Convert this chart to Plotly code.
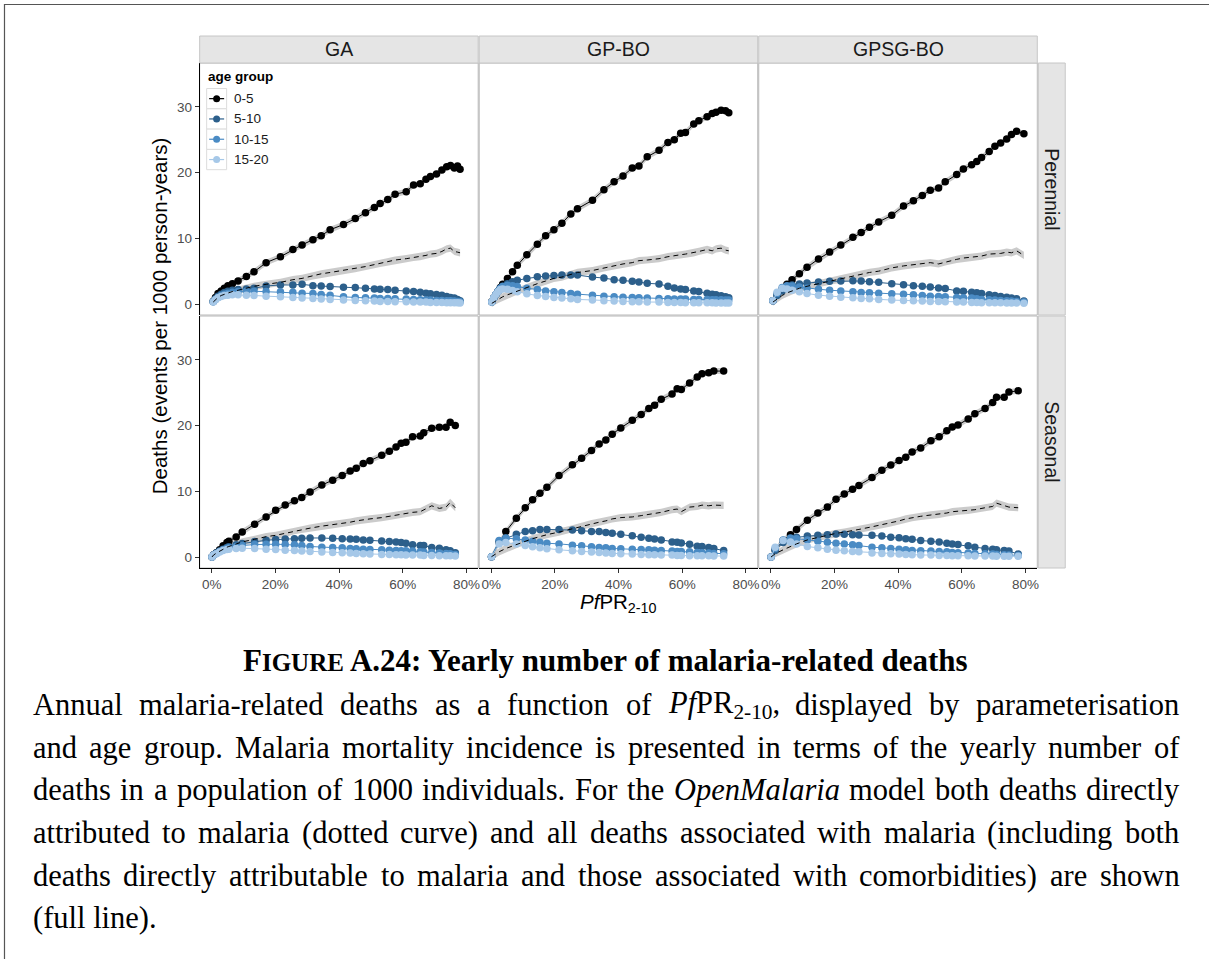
import re
import plotly.graph_objects as go

# ------------------------------------------------------------------
# Data: yearly malaria deaths per 1000 person-years against PfPR(2-10)
# ------------------------------------------------------------------
AGE_GROUPS = ["0-5", "5-10", "10-15", "15-20"]
PARAMETERISATIONS = ["GA", "GP-BO", "GPSG-BO"]
SETTINGS = ["Perennial", "Seasonal"]
X_TICKS = [0, 0.2, 0.4, 0.6, 0.8]
X_TICK_LABELS = ["0%", "20%", "40%", "60%", "80%"]
Y_TICKS = [0, 10, 20, 30]

# GA, perennial
ga_per_x = [0.005, 0.012, 0.020, 0.030, 0.040, 0.051, 0.065, 0.083, 0.109, 0.133,
            0.171, 0.216, 0.255, 0.284, 0.318, 0.344, 0.372, 0.414, 0.451, 0.483,
            0.511, 0.529, 0.553, 0.576, 0.611, 0.634, 0.655, 0.673, 0.687, 0.706,
            0.723, 0.738, 0.750, 0.762, 0.772, 0.780]
ga_per_0_5 = [0.4, 1.0, 1.6, 2.0, 2.4, 2.8, 3.1, 3.5, 4.2, 4.9,
              6.3, 7.2, 8.3, 9.0, 9.8, 10.4, 11.3, 12.1, 13.0, 13.9,
              14.7, 15.3, 15.9, 16.7, 17.1, 18.1, 18.3, 19.0, 19.4, 19.8,
              20.4, 20.9, 21.1, 20.7, 21.0, 20.5]
ga_per_5_10 = [0.4, 0.8, 1.2, 1.5, 1.75, 1.95, 2.1, 2.2, 2.3, 2.4,
               2.75, 2.9, 2.9, 3.0, 2.8, 2.75, 2.65, 2.55, 2.5, 2.4,
               2.3, 2.25, 2.2, 2.1, 2.0, 1.9, 1.8, 1.65, 1.55, 1.45,
               1.35, 1.15, 1.0, 0.9, 0.7, 0.5]
ga_per_10_15 = [0.35, 0.7, 1.0, 1.3, 1.5, 1.65, 1.8, 1.9, 1.95, 1.95,
                1.9, 1.85, 1.8, 1.65, 1.6, 1.45, 1.35, 1.1, 1.0, 0.95,
                0.9, 0.85, 0.85, 0.8, 0.75, 0.7, 0.65, 0.6, 0.6, 0.55,
                0.55, 0.5, 0.5, 0.45, 0.4, 0.35]
ga_per_15_20 = [0.3, 0.65, 0.95, 1.15, 1.3, 1.35, 1.4, 1.4, 1.35, 1.3,
                1.2, 1.1, 1.0, 0.9, 0.85, 0.75, 0.7, 0.6, 0.55, 0.5,
                0.45, 0.4, 0.4, 0.35, 0.35, 0.3, 0.3, 0.3, 0.25, 0.25,
                0.25, 0.2, 0.2, 0.2, 0.2, 0.15]
ga_per_direct = [0.3, 0.7, 1.0, 1.3, 1.5, 1.7, 1.9, 2.1, 2.4, 2.7,
                 3.0, 3.3, 3.7, 3.9, 4.3, 4.6, 4.8, 5.1, 5.4, 5.7,
                 6.0, 6.2, 6.4, 6.7, 6.9, 7.1, 7.2, 7.4, 7.6, 7.7,
                 8.0, 8.4, 8.5, 8.0, 7.9, 7.8]

# GA, seasonal
ga_sea_x = [0.001, 0.006, 0.015, 0.025, 0.036, 0.048, 0.054, 0.077, 0.096, 0.135,
            0.171, 0.201, 0.231, 0.260, 0.283, 0.309, 0.346, 0.380, 0.410, 0.435,
            0.454, 0.476, 0.497, 0.534, 0.558, 0.579, 0.595, 0.610, 0.631, 0.655,
            0.666, 0.691, 0.715, 0.736, 0.749, 0.765]
ga_sea_0_5 = [0.0, 0.35, 0.65, 1.1, 1.7, 2.2, 2.4, 3.05, 3.8, 5.0,
              6.1, 7.1, 7.9, 8.55, 9.05, 9.9, 10.95, 11.7, 12.4, 13.1,
              13.5, 14.25, 14.65, 15.5, 16.1, 16.75, 17.3, 17.45, 18.3, 18.4,
              18.9, 19.6, 19.75, 19.75, 20.5, 20.0]
ga_sea_5_10 = [0.0, 0.3, 0.6, 0.9, 1.2, 1.45, 1.55, 1.85, 2.05, 2.35,
               2.55, 2.65, 2.75, 2.8, 2.85, 2.9, 2.9, 2.85, 2.8, 2.75,
               2.7, 2.6, 2.55, 2.45, 2.35, 2.3, 2.2, 2.1, 1.85, 1.75,
               1.75, 1.45, 1.35, 1.1, 0.95, 0.65]
ga_sea_10_15 = [0.0, 0.3, 0.55, 0.85, 1.1, 1.3, 1.4, 1.6, 1.75, 1.9,
                1.95, 1.95, 1.9, 1.85, 1.75, 1.6, 1.5, 1.45, 1.4, 1.3,
                1.25, 1.2, 1.15, 1.1, 1.05, 1.0, 0.95, 0.95, 0.9, 0.8,
                0.75, 0.7, 0.6, 0.55, 0.5, 0.4]
ga_sea_15_20 = [0.0, 0.3, 0.5, 0.75, 1.0, 1.15, 1.2, 1.3, 1.35, 1.3,
                1.2, 1.15, 1.05, 1.0, 0.9, 0.85, 0.75, 0.7, 0.65, 0.6,
                0.55, 0.5, 0.45, 0.4, 0.4, 0.35, 0.35, 0.3, 0.3, 0.3,
                0.25, 0.25, 0.2, 0.2, 0.2, 0.15]
ga_sea_direct = [0.0, 0.3, 0.6, 0.9, 1.2, 1.5, 1.6, 2.0, 2.3, 2.7,
                 3.1, 3.3, 3.6, 4.0, 4.2, 4.4, 4.7, 4.9, 5.1, 5.3,
                 5.5, 5.7, 5.8, 6.0, 6.2, 6.4, 6.5, 6.6, 6.8, 6.9,
                 7.2, 7.8, 7.4, 7.6, 8.3, 7.5]

# GP-BO, perennial
gpbo_per_x = [0.002, 0.008, 0.015, 0.022, 0.029, 0.036, 0.051, 0.067, 0.082, 0.112,
              0.145, 0.171, 0.197, 0.222, 0.250, 0.271, 0.318, 0.354, 0.386, 0.414,
              0.443, 0.464, 0.490, 0.527, 0.555, 0.575, 0.595, 0.610, 0.636, 0.652,
              0.678, 0.694, 0.706, 0.722, 0.736, 0.746]
gpbo_per_0_5 = [0.35, 0.9, 1.5, 2.0, 2.5, 3.0, 3.9, 4.9, 5.9, 7.5,
                9.1, 10.4, 11.3, 12.3, 13.7, 14.5, 15.8, 17.4, 18.6, 19.5,
                20.7, 21.0, 22.4, 23.4, 24.6, 25.0, 26.0, 26.1, 27.4, 27.9,
                28.5, 29.0, 29.2, 29.5, 29.4, 29.1]
gpbo_per_5_10 = [0.3, 0.9, 1.5, 2.0, 2.4, 2.7, 3.1, 3.4, 3.6, 3.9,
                 4.15, 4.25, 4.35, 4.4, 4.4, 4.4, 4.1, 3.95, 3.7, 3.6,
                 3.45, 3.35, 3.15, 3.05, 2.7, 2.45, 2.3, 2.2, 2.0, 1.9,
                 1.65, 1.5, 1.4, 1.25, 1.1, 0.95]
gpbo_per_10_15 = [0.3, 0.9, 1.5, 2.0, 2.4, 2.65, 2.85, 2.8, 2.65, 2.4,
                  2.2, 2.0, 1.85, 1.75, 1.6, 1.5, 1.35, 1.2, 1.1, 1.05,
                  1.0, 0.95, 0.9, 0.85, 0.8, 0.75, 0.75, 0.75, 0.7, 0.7,
                  0.7, 0.65, 0.65, 0.65, 0.6, 0.6]
gpbo_per_15_20 = [0.3, 0.9, 1.5, 1.9, 2.2, 2.3, 2.25, 2.05, 1.85, 1.55,
                  1.3, 1.15, 1.0, 0.9, 0.8, 0.7, 0.6, 0.5, 0.45, 0.4,
                  0.35, 0.35, 0.3, 0.3, 0.25, 0.25, 0.25, 0.2, 0.2, 0.2,
                  0.2, 0.2, 0.15, 0.15, 0.15, 0.15]
gpbo_per_direct = [0.1, 0.3, 0.5, 0.7, 0.9, 1.1, 1.4, 1.7, 2.0, 2.5,
                   3.1, 3.5, 3.9, 4.1, 4.5, 4.8, 5.1, 5.5, 5.8, 6.1,
                   6.3, 6.6, 6.7, 6.9, 7.2, 7.3, 7.5, 7.6, 7.8, 8.0,
                   8.3, 8.1, 8.4, 8.5, 8.2, 8.1]

# GP-BO, seasonal
gpbo_sea_x = [0.001, 0.025, 0.046, 0.079, 0.107, 0.130, 0.153, 0.175, 0.213, 0.255,
              0.284, 0.315, 0.339, 0.360, 0.380, 0.407, 0.443, 0.471, 0.495, 0.513,
              0.534, 0.568, 0.584, 0.597, 0.623, 0.647, 0.662, 0.683, 0.699, 0.730]
gpbo_sea_0_5 = [0.05, 2.2, 3.9, 5.9, 7.5, 8.7, 9.7, 10.6, 12.4, 14.05,
                15.05, 16.2, 17.2, 17.8, 18.7, 19.65, 20.8, 21.7, 22.6, 23.1,
                24.0, 24.8, 25.6, 25.5, 26.5, 27.4, 27.9, 28.05, 28.3, 28.3]
gpbo_sea_5_10 = [0.05, 2.4, 2.85, 3.45, 3.9, 4.0, 4.2, 4.2, 4.2, 4.1,
                 4.0, 3.9, 3.9, 3.75, 3.6, 3.45, 3.25, 3.0, 2.85, 2.75,
                 2.6, 2.3, 2.25, 2.15, 1.95, 1.65, 1.6, 1.45, 1.3, 1.0]
gpbo_sea_10_15 = [0.05, 2.5, 2.9, 2.8, 2.6, 2.4, 2.25, 2.1, 2.0, 1.8,
                  1.7, 1.55, 1.45, 1.4, 1.3, 1.25, 1.2, 1.15, 1.1, 1.05,
                  1.0, 0.9, 0.85, 0.85, 0.8, 0.7, 0.65, 0.6, 0.55, 0.5]
gpbo_sea_15_20 = [0.05, 2.0, 2.2, 2.0, 1.75, 1.55, 1.4, 1.25, 1.1, 0.95,
                  0.85, 0.75, 0.7, 0.6, 0.55, 0.5, 0.45, 0.4, 0.35, 0.35,
                  0.3, 0.3, 0.25, 0.25, 0.2, 0.2, 0.2, 0.2, 0.15, 0.15]
gpbo_sea_direct = [0.05, 0.8, 1.3, 1.9, 2.4, 2.8, 3.1, 3.4, 3.8, 4.3,
                   4.7, 5.1, 5.3, 5.5, 5.8, 6.0, 6.1, 6.3, 6.5, 6.6,
                   6.8, 7.2, 7.3, 6.9, 7.6, 7.7, 7.9, 7.8, 7.9, 7.85]

# GPSG-BO, perennial
gpsg_per_x = [0.007, 0.020, 0.036, 0.051, 0.067, 0.090, 0.114, 0.150, 0.185, 0.220,
              0.258, 0.284, 0.310, 0.339, 0.380, 0.417, 0.448, 0.476, 0.501, 0.527,
              0.548, 0.584, 0.605, 0.631, 0.647, 0.662, 0.686, 0.704, 0.722, 0.741,
              0.756, 0.772, 0.795]
gpsg_per_0_5 = [0.5, 1.4, 2.3, 3.0, 3.7, 4.6, 5.6, 6.85, 7.9, 9.0,
                10.15, 10.9, 11.7, 12.5, 13.5, 14.9, 15.7, 16.5, 17.3, 17.65,
                18.6, 19.7, 20.55, 21.2, 21.7, 22.3, 23.2, 24.0, 24.5, 25.1,
                25.8, 26.3, 25.9]
gpsg_per_5_10 = [0.5, 1.3, 2.0, 2.5, 2.9, 3.05, 3.2, 3.35, 3.45, 3.5,
                 3.55, 3.5, 3.4, 3.3, 3.1, 2.95, 2.8, 2.7, 2.6, 2.45,
                 2.35, 2.0, 1.95, 1.8, 1.7, 1.6, 1.4, 1.3, 1.15, 1.05,
                 0.9, 0.8, 0.45]
gpsg_per_10_15 = [0.5, 1.6, 2.5, 2.8, 2.75, 2.6, 2.4, 2.25, 2.1, 2.0,
                  1.85, 1.75, 1.7, 1.65, 1.55, 1.5, 1.4, 1.3, 1.2, 1.15,
                  1.1, 1.0, 0.95, 0.9, 0.8, 0.7, 0.65, 0.6, 0.55, 0.5,
                  0.45, 0.4, 0.3]
gpsg_per_15_20 = [0.5, 1.8, 2.4, 2.3, 2.1, 1.85, 1.6, 1.35, 1.2, 1.05,
                  0.95, 0.85, 0.8, 0.7, 0.6, 0.55, 0.5, 0.45, 0.4, 0.4,
                  0.35, 0.3, 0.3, 0.25, 0.25, 0.2, 0.2, 0.2, 0.2, 0.15,
                  0.15, 0.15, 0.1]
gpsg_per_direct = [0.3, 0.8, 1.3, 1.7, 2.0, 2.4, 2.7, 3.1, 3.5, 3.8,
                   4.2, 4.5, 4.8, 5.0, 5.5, 5.8, 6.0, 6.2, 6.3, 6.1,
                   6.4, 6.8, 7.0, 7.1, 7.2, 7.3, 7.6, 7.6, 7.7, 7.9,
                   7.8, 8.1, 7.4]

# GPSG-BO, seasonal
gpsg_sea_x = [0.001, 0.014, 0.039, 0.062, 0.081, 0.115, 0.148, 0.178, 0.205, 0.231,
              0.257, 0.277, 0.318, 0.349, 0.377, 0.403, 0.424, 0.444, 0.471, 0.503,
              0.529, 0.553, 0.570, 0.588, 0.620, 0.641, 0.673, 0.697, 0.709, 0.733,
              0.748, 0.777]
gpsg_sea_0_5 = [0.0, 1.1, 2.5, 3.4, 4.2, 5.6, 6.7, 7.6, 8.8, 9.6,
                10.3, 10.9, 12.1, 13.2, 14.0, 14.7, 15.2, 16.0, 16.6, 17.7,
                18.3, 19.2, 19.8, 20.1, 21.0, 21.8, 22.6, 23.5, 24.3, 24.3,
                25.1, 25.3]
gpsg_sea_5_10 = [0.0, 1.0, 2.2, 2.8, 3.0, 3.2, 3.3, 3.4, 3.5, 3.45,
                 3.4, 3.35, 3.3, 3.2, 3.0, 2.95, 2.8, 2.7, 2.5, 2.4,
                 2.3, 2.1, 2.0, 1.9, 1.7, 1.5, 1.3, 1.2, 1.1, 1.0,
                 0.9, 0.45]
gpsg_sea_10_15 = [0.0, 1.3, 2.6, 2.9, 2.8, 2.6, 2.4, 2.25, 2.1, 2.0,
                  1.85, 1.75, 1.5, 1.4, 1.3, 1.2, 1.1, 1.0, 0.95, 0.9,
                  0.85, 0.8, 0.7, 0.65, 0.6, 0.55, 0.5, 0.45, 0.4, 0.35,
                  0.3, 0.25]
gpsg_sea_15_20 = [0.0, 1.5, 2.5, 2.3, 2.0, 1.6, 1.4, 1.2, 1.05, 0.95,
                  0.85, 0.8, 0.6, 0.55, 0.5, 0.45, 0.4, 0.35, 0.3, 0.3,
                  0.25, 0.25, 0.2, 0.2, 0.2, 0.15, 0.15, 0.15, 0.1, 0.1,
                  0.1, 0.1]
gpsg_sea_direct = [0.0, 0.5, 1.1, 1.6, 2.0, 2.6, 3.0, 3.3, 3.6, 3.8,
                   4.0, 4.2, 4.6, 4.9, 5.2, 5.5, 5.8, 6.0, 6.2, 6.4,
                   6.5, 6.7, 6.9, 7.0, 7.1, 7.2, 7.5, 7.7, 8.2, 7.8,
                   7.6, 7.5]

# half-width of the uncertainty bands (events per 1000 person-years)
BAND_ALL = 0.45
BAND_DIRECT = 0.55

PANELS = {
    ("GA", "Perennial"): (ga_per_x, [ga_per_0_5, ga_per_5_10, ga_per_10_15, ga_per_15_20], ga_per_direct),
    ("GP-BO", "Perennial"): (gpbo_per_x, [gpbo_per_0_5, gpbo_per_5_10, gpbo_per_10_15, gpbo_per_15_20], gpbo_per_direct),
    ("GPSG-BO", "Perennial"): (gpsg_per_x, [gpsg_per_0_5, gpsg_per_5_10, gpsg_per_10_15, gpsg_per_15_20], gpsg_per_direct),
    ("GA", "Seasonal"): (ga_sea_x, [ga_sea_0_5, ga_sea_5_10, ga_sea_10_15, ga_sea_15_20], ga_sea_direct),
    ("GP-BO", "Seasonal"): (gpbo_sea_x, [gpbo_sea_0_5, gpbo_sea_5_10, gpbo_sea_10_15, gpbo_sea_15_20], gpbo_sea_direct),
    ("GPSG-BO", "Seasonal"): (gpsg_sea_x, [gpsg_sea_0_5, gpsg_sea_5_10, gpsg_sea_10_15, gpsg_sea_15_20], gpsg_sea_direct),
}

# ------------------------------------------------------------------
# Styling and page geometry (pixels of a 1211 x 959 page)
# ------------------------------------------------------------------
COLORS = ["#000000", "#2c5f8b", "#4a8bc4", "#a6c8e8"]
RIBBON = "rgba(185,185,185,0.75)"
SANS = "Liberation Sans, Arial, sans-serif"
SERIF = "Liberation Serif, Times New Roman, serif"
W, H = 1211, 959
X_RANGE = [-0.0376, 0.837]
Y_RANGE = [-1.67, 36.68]
PANEL_LEFT, PANEL_STEP, PANEL_W = 200, 280, 279
ROW_TOPS, PANEL_H = [63, 316], 252


def fx(p):
    return p / W


def fy(p):
    return 1 - p / H


fig = go.Figure()
layout_axes = {}
shapes = []
annotations = []

for r, setting in enumerate(SETTINGS):
    for c, param in enumerate(PARAMETERISATIONS):
        n = r * 3 + c + 1
        xref = "x" if n == 1 else f"x{n}"
        yref = "y" if n == 1 else f"y{n}"
        x, groups, direct = PANELS[(param, setting)]

        # uncertainty ribbons around the all-cause and direct curves (0-5)
        total = groups[0]
        fig.add_trace(go.Scatter(
            x=x + x[::-1],
            y=[v + BAND_ALL for v in total] + [v - BAND_ALL for v in total[::-1]],
            fill="toself", fillcolor=RIBBON, line=dict(width=0),
            mode="lines", hoverinfo="skip", xaxis=xref, yaxis=yref))
        fig.add_trace(go.Scatter(
            x=x + x[::-1],
            y=[v + BAND_DIRECT for v in direct] + [v - BAND_DIRECT for v in direct[::-1]],
            fill="toself", fillcolor=RIBBON, line=dict(width=0),
            mode="lines", hoverinfo="skip", xaxis=xref, yaxis=yref))

        for g, name in enumerate(AGE_GROUPS):
            fig.add_trace(go.Scatter(
                x=x, y=groups[g], mode="lines+markers", name=name,
                line=dict(color=COLORS[g], width=1),
                marker=dict(color=COLORS[g], size=7.5, line=dict(width=0)),
                xaxis=xref, yaxis=yref))

        fig.add_trace(go.Scatter(
            x=x, y=direct, mode="lines",
            line=dict(color="#000000", width=1, dash="5px,4px"),
            xaxis=xref, yaxis=yref))

        left = PANEL_LEFT + PANEL_STEP * c
        top = ROW_TOPS[r]
        layout_axes["xaxis" if n == 1 else f"xaxis{n}"] = dict(
            domain=[fx(left), fx(left + PANEL_W)], range=X_RANGE, anchor=yref,
            showgrid=False, zeroline=False, tickvals=X_TICKS, ticktext=X_TICK_LABELS,
            showticklabels=(r == 1), ticks="outside" if r == 1 else "",
            ticklen=4, tickwidth=1, tickcolor="#333333",
            showline=(r == 1), linecolor="#000000", linewidth=1.1,
            tickfont=dict(family=SANS, size=13.5, color="#4d4d4d"))
        layout_axes["yaxis" if n == 1 else f"yaxis{n}"] = dict(
            domain=[fy(top + PANEL_H), fy(top)], range=Y_RANGE, anchor=xref,
            showgrid=False, zeroline=False, tickvals=Y_TICKS,
            showticklabels=(c == 0), ticks="outside" if c == 0 else "",
            ticklen=4, tickwidth=1, tickcolor="#333333",
            showline=(c == 0), linecolor="#000000", linewidth=1.1,
            tickfont=dict(family=SANS, size=13.5, color="#4d4d4d"))

        # panel frame
        shapes.append(dict(type="rect", xref="paper", yref="paper", layer="below",
                           x0=fx(left), x1=fx(left + PANEL_W), y0=fy(top + PANEL_H), y1=fy(top),
                           line=dict(color="#b8b8b8", width=1), fillcolor="rgba(0,0,0,0)"))

# facet strips
for c, param in enumerate(PARAMETERISATIONS):
    left = PANEL_LEFT + PANEL_STEP * c
    shapes.append(dict(type="rect", xref="paper", yref="paper",
                       x0=fx(left), x1=fx(left + PANEL_W), y0=fy(63), y1=fy(36),
                       line=dict(color="#c6c6c6", width=1), fillcolor="#e5e5e5"))
    annotations.append(dict(text=param, xref="paper", yref="paper",
                            x=fx(left + PANEL_W / 2), y=fy(49.5), showarrow=False,
                            xanchor="center", yanchor="middle",
                            font=dict(family=SANS, size=19.5, color="#1a1a1a")))
for r, setting in enumerate(SETTINGS):
    top = ROW_TOPS[r]
    shapes.append(dict(type="rect", xref="paper", yref="paper",
                       x0=fx(1040), x1=fx(1067), y0=fy(top + PANEL_H), y1=fy(top),
                       line=dict(color="#c6c6c6", width=1), fillcolor="#e5e5e5"))
    annotations.append(dict(text=setting, xref="paper", yref="paper",
                            x=fx(1053.5), y=fy(top + PANEL_H / 2), showarrow=False,
                            textangle=90, xanchor="center", yanchor="middle",
                            font=dict(family=SANS, size=19.5, color="#1a1a1a")))

# axis titles
annotations.append(dict(text="Deaths (events per 1000 person-years)", xref="paper", yref="paper",
                        x=fx(160), y=fy(315.5), showarrow=False, textangle=-90,
                        xanchor="center", yanchor="middle",
                        font=dict(family=SANS, size=20.5, color="#000000")))
annotations.append(dict(text="<i>Pf</i>PR<sub>2-10</sub>", xref="paper", yref="paper",
                        x=fx(619.5), y=fy(603), showarrow=False,
                        xanchor="center", yanchor="middle", borderpad=0,
                        font=dict(family=SANS, size=20.5, color="#000000")))

# legend (inside the top-left panel)
annotations.append(dict(text="<b>age group</b>", xref="paper", yref="paper",
                        x=fx(206), y=fy(76.5), showarrow=False,
                        xanchor="left", yanchor="middle",
                        font=dict(family=SANS, size=13.5, color="#000000")))
for k, name in enumerate(AGE_GROUPS):
    y0 = 88.5 + 20.3 * k
    cy = y0 + 10.15
    shapes.append(dict(type="rect", xref="paper", yref="paper",
                       x0=fx(207), x1=fx(227), y0=fy(y0 + 20.3), y1=fy(y0),
                       line=dict(color="#dcdcdc", width=1), fillcolor="#ffffff"))
    shapes.append(dict(type="line", xref="paper", yref="paper",
                       x0=fx(209.5), x1=fx(224.5), y0=fy(cy), y1=fy(cy),
                       line=dict(color=COLORS[k], width=1.2)))
    shapes.append(dict(type="circle", xref="paper", yref="paper",
                       x0=fx(213.5), x1=fx(220.5), y0=fy(cy + 3.5), y1=fy(cy - 3.5),
                       line=dict(width=0), fillcolor=COLORS[k]))
    annotations.append(dict(text=name, xref="paper", yref="paper",
                            x=fx(232), y=fy(cy), showarrow=False,
                            xanchor="left", yanchor="middle",
                            font=dict(family=SANS, size=13.5, color="#1a1a1a")))

# page frame
shapes.append(dict(type="line", xref="paper", yref="paper",
                   x0=fx(4), x1=1, y0=fy(4.5), y1=fy(4.5), line=dict(color="#555555", width=1.2)))
shapes.append(dict(type="line", xref="paper", yref="paper",
                   x0=fx(4.5), x1=fx(4.5), y0=0, y1=fy(4), line=dict(color="#555555", width=1.2)))

# ------------------------------------------------------------------
# Caption, set as justified lines of serif text
# ------------------------------------------------------------------
ROMAN_W = {" ": 250, "a": 444, "b": 500, "c": 444, "d": 500, "e": 444, "f": 333, "g": 500,
           "h": 500, "i": 278, "j": 278, "k": 500, "l": 278, "m": 778, "n": 500, "o": 500,
           "p": 500, "q": 500, "r": 333, "s": 389, "t": 278, "u": 500, "v": 500, "w": 722,
           "x": 500, "y": 500, "z": 444, "A": 722, "B": 667, "C": 667, "D": 722, "E": 611,
           "F": 556, "G": 722, "H": 722, "I": 333, "M": 889, "O": 722, "P": 556, "R": 667,
           "S": 556, "T": 611, "U": 722, ".": 250, ",": 250, "-": 333, "(": 333, ")": 333,
           ":": 278}
ITALIC_W = {"P": 611, "f": 278, "O": 722, "p": 500, "e": 444, "n": 500, "M": 833,
            "a": 500, "l": 278, "r": 389, "i": 278}


def word_width(markup, size):
    total, italic, sub = 0.0, False, False
    for tok in re.split(r"(<[^>]+>)", markup):
        if tok.startswith("<"):
            closing = tok.startswith("</")
            tag = tok.strip("</>").lower()
            if tag == "i":
                italic = not closing
            elif tag == "sub":
                sub = not closing
            continue
        for ch in tok:
            w = ITALIC_W.get(ch) if italic else None
            if w is None:
                w = ROMAN_W.get(ch, 500)
            total += w * (0.7 if sub else 1.0)
    return total * size / 1000.0


CAPTION_SIZE = 30.5
CAP_LEFT, CAP_RIGHT = 32, 1180
CAPTION_LINES = [
    ("Annual malaria-related deaths as a function of <i>Pf</i>PR<sub>2-10</sub>, displayed by parameterisation", True),
    ("and age group.  Malaria mortality incidence is presented in terms of the yearly number of", True),
    ("deaths in a population of 1000 individuals. For the <i>OpenMalaria</i> model both deaths directly", True),
    ("attributed to malaria (dotted curve) and all deaths associated with malaria (including both", True),
    ("deaths directly attributable to malaria and those associated with comorbidities) are shown", True),
    ("(full line).", False),
]
LINE_Y = [705, 748, 790, 833, 876, 918]

annotations.append(dict(
    text="<b>F<span style='font-size:25px'>IGURE</span> A.24: Yearly number of malaria-related deaths</b>",
    xref="paper", yref="paper", x=fx(607), y=fy(660), showarrow=False,
    xanchor="center", yanchor="middle", borderpad=0,
    font=dict(family=SERIF, size=31, color="#000000")))

for (line, justify), ly in zip(CAPTION_LINES, LINE_Y):
    words = line.split()
    if not justify:
        annotations.append(dict(text=line, xref="paper", yref="paper", x=fx(CAP_LEFT), y=fy(ly),
                                showarrow=False, xanchor="left", yanchor="middle", borderpad=0,
                                font=dict(family=SERIF, size=CAPTION_SIZE, color="#000000")))
        continue
    widths = [word_width(w, CAPTION_SIZE) for w in words]
    gap = (CAP_RIGHT - CAP_LEFT - sum(widths)) / (len(words) - 1)
    pos = CAP_LEFT
    for w, wd in zip(words, widths):
        annotations.append(dict(text=w, xref="paper", yref="paper", x=fx(pos), y=fy(ly),
                                showarrow=False, xanchor="left", yanchor="middle", borderpad=0,
                                font=dict(family=SERIF, size=CAPTION_SIZE, color="#000000")))
        pos += wd + gap

fig.update_layout(
    width=W, height=H, margin=dict(l=0, r=0, t=0, b=0),
    paper_bgcolor="#ffffff", plot_bgcolor="rgba(0,0,0,0)",
    showlegend=False, shapes=shapes, annotations=annotations,
    font=dict(family=SANS), **layout_axes)

fig.write_html("out.html")
